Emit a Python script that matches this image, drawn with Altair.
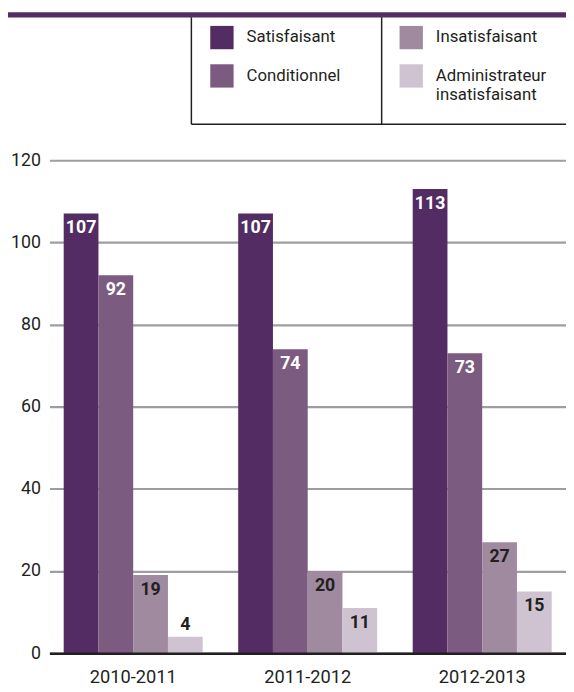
import altair as alt
import pandas as pd

periods = ["2010-2011", "2011-2012", "2012-2013"]
categories = ["Satisfaisant", "Conditionnel", "Insatisfaisant", "Administrateur insatisfaisant"]
satisfaisant = [107, 107, 113]
conditionnel = [92, 74, 73]
insatisfaisant = [19, 20, 27]
administrateur = [4, 11, 15]
colors = ["#522c62", "#7b5b80", "#a08aa0", "#cfc3d2"]
y_ticks = [0, 20, 40, 60, 80, 100, 120]

rows = []
for series, vals in zip(categories, [satisfaisant, conditionnel, insatisfaisant, administrateur]):
    for p, v in zip(periods, vals):
        rows.append({"period": p, "category": series, "value": v})
df = pd.DataFrame(rows)

FONT = "Roboto"
TXT = "#231f20"
PURPLE = "#522c62"

x_enc = alt.X(
    "period:N", sort=periods, title=None,
    scale=alt.Scale(paddingInner=0.2034, paddingOuter=0.0819),
    axis=alt.Axis(labelAngle=0, ticks=False, domainColor=TXT, domainWidth=2.5,
                  labelFontSize=18.5, labelColor=TXT, labelPadding=15, zindex=1,
                  labelFont=FONT),
)
xo_enc = alt.XOffset("category:N", sort=categories)
y_enc = alt.Y(
    "value:Q", title=None,
    scale=alt.Scale(domain=[0, 120], nice=False),
    axis=alt.Axis(values=y_ticks, domain=False, ticks=False, gridColor="#9e9ea0",
                  gridWidth=2.2, labelFontSize=18, labelColor=TXT, labelPadding=9,
                  labelFont=FONT),
)

base = alt.Chart(df)

bars = base.mark_bar(strokeWidth=0).encode(
    x=x_enc, xOffset=xo_enc, y=y_enc,
    color=alt.Color(
        "category:N",
        scale=alt.Scale(domain=categories, range=colors),
        legend=alt.Legend(
            orient="none", legendX=163, legendY=-136.5, columns=2, title=None,
            symbolType="square", symbolSize=560, symbolOpacity=1, symbolStrokeWidth=0,
            labelFont=FONT, labelFontSize=17, labelColor=TXT, labelOffset=13,
            rowPadding=15, columnPadding=59, padding=0, labelLimit=300,
            labelExpr="datum.label == 'Administrateur insatisfaisant' ? ['Administrateur', 'insatisfaisant'] : datum.label",
        ),
    ),
)

inside = base.transform_filter("datum.value >= 8").mark_text(
    baseline="top", dy=6, fontWeight="bold", fontSize=18, font=FONT
).encode(
    x=x_enc, xOffset=xo_enc, y=y_enc, text="value:Q",
    color=alt.condition(
        "datum.category == 'Satisfaisant' || datum.category == 'Conditionnel'",
        alt.value("white"), alt.value(TXT)),
)

outside = base.transform_filter("datum.value < 8").mark_text(
    baseline="bottom", dy=-3, fontWeight="bold", fontSize=18, font=FONT, color=TXT
).encode(x=x_enc, xOffset=xo_enc, y=y_enc, text="value:Q")

one = alt.Data(values=[{}])
band = alt.Chart(one).mark_rect(color=PURPLE).encode(
    x=alt.value(-42), x2=alt.value(530), y=alt.value(-150), y2=alt.value(-144.8))
left_border = alt.Chart(one).mark_rule(color=TXT, strokeWidth=1.5).encode(
    x=alt.value(144), y=alt.value(-145), y2=alt.value(-36.5))
divider = alt.Chart(one).mark_rule(color=TXT, strokeWidth=1.5).encode(
    x=alt.value(337), y=alt.value(-145), y2=alt.value(-36.5))
bottom_border = alt.Chart(one).mark_rule(color=TXT, strokeWidth=1.5).encode(
    x=alt.value(144), x2=alt.value(530), y=alt.value(-36.5))

chart = alt.layer(band, left_border, divider, bottom_border, bars, inside, outside).properties(
    width=524, height=500,
    padding={"left": 42, "top": 149.5, "right": 0, "bottom": 34.5},
    autosize="none",
).configure_view(stroke=None)

chart.save("out.html", embed_options={"renderer": "svg", "actions": False})
